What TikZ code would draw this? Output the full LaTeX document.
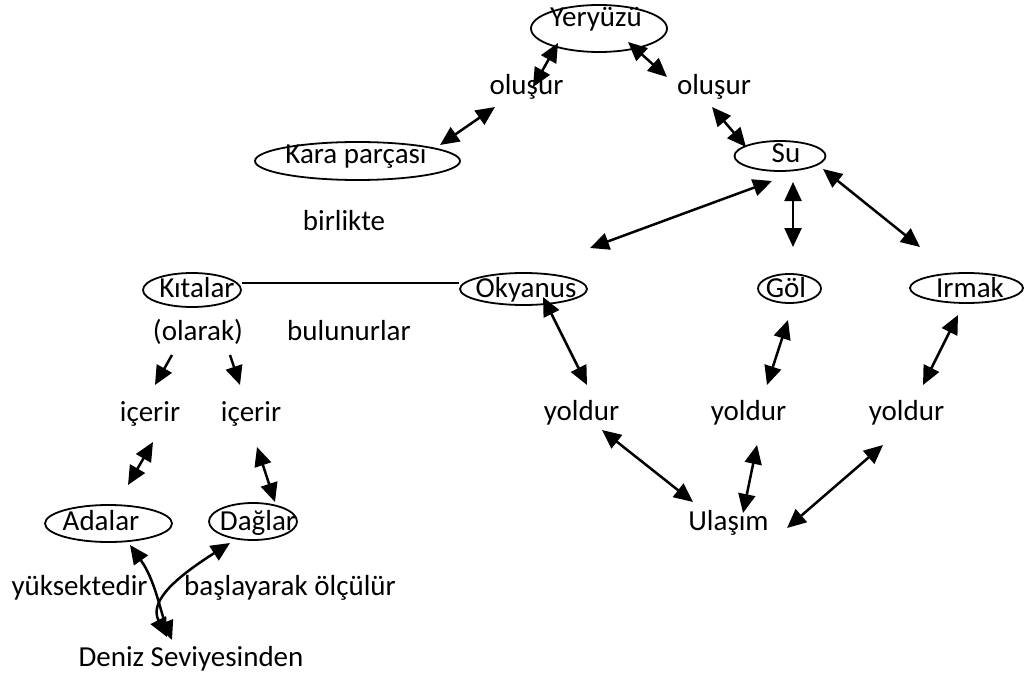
\documentclass[tikz,border=0pt]{standalone}
\usepackage{fontspec}
\setmainfont{Carlito}
\usetikzlibrary{arrows.meta,shapes.geometric}
\begin{document}
\begin{tikzpicture}[x=1pt,y=-1pt,
  oval/.style={ellipse,draw,line width=1.8pt,inner sep=0pt},
  lbl/.style={anchor=base,inner sep=0pt,font=\fontsize{29}{34}\selectfont},
  dbl/.style={line width=2.5pt,{Triangle[length=19pt,width=17pt]}-{Triangle[length=19pt,width=17pt]}},
  sgl/.style={line width=2.5pt,-{Triangle[length=19pt,width=17pt]}},
  plain/.style={line width=1.8pt}]
\useasboundingbox[fill=white] (0,0) rectangle (1035,679);

% ellipses
\node[oval,minimum width=136pt,minimum height=47pt] (Yer) at (599,28.5) {};
\node[oval,minimum width=205pt,minimum height=38pt] (Kara) at (357.5,161) {};
\node[oval,minimum width=91pt,minimum height=30pt] (Su) at (780,156) {};
\node[oval,minimum width=98pt,minimum height=34pt] (Kit) at (192,290) {};
\node[oval,minimum width=127pt,minimum height=32pt] (Oky) at (523.5,289) {};
\node[oval,minimum width=63pt,minimum height=29pt] (Gol) at (789.5,288.5) {};
\node[oval,minimum width=113pt,minimum height=30pt] (Irm) at (966.5,288) {};
\node[oval,minimum width=127pt,minimum height=37pt] (Ada) at (108.5,523.5) {};
\node[oval,minimum width=88pt,minimum height=37pt] (Dag) at (253,521.5) {};

% ellipse texts
\node[lbl] (tYer) at (596,27) {Yeryüzü};
\node[lbl] (tKara) at (356,164) {Kara parçası};
\node[lbl] (tSu) at (786,163) {Su};
\node[lbl] (tKit) at (197,297) {Kıtalar};
\node[lbl] (tOky) at (526,297) {Okyanus};
\node[lbl] (tGol) at (786,297) {Göl};
\node[lbl] (tIrm) at (970,297) {Irmak};
\node[lbl] (tAda) at (101,530) {Adalar};
\node[lbl] (tDag) at (258,530) {Dağlar};

% plain texts
\node[lbl] (olL) at (526.5,95) {oluşur};
\node[lbl] (olR) at (714,95) {oluşur};
\node[lbl] (bir) at (344,230) {birlikte};
\node[lbl] (ola) at (198,340) {(olarak)};
\node[lbl] (bul) at (349,340) {bulunurlar};
\node[lbl] (icL) at (150,421) {içerir};
\node[lbl] (icR) at (251,421) {içerir};
\node[lbl] (y1) at (581.5,420) {yoldur};
\node[lbl] (y2) at (748.5,420) {yoldur};
\node[lbl] (y3) at (906.5,420) {yoldur};
\node[lbl] (Ul) at (728.5,530) {Ulaşım};
\node[lbl] (yuk) at (79.5,595) {yüksektedir};
\node[lbl] (bas) at (290,595) {başlayarak ölçülür};
\node[lbl] (Den) at (191,666) {Deniz Seviyesinden};

% connectors
\draw[dbl] ([shift={(-41,14.5)}]Yer.center) -- ([shift={(6.5,-8)}]olL.base);
\draw[dbl] ([shift={(29,13.5)}]Yer.center) -- ([shift={(-47,-18)}]olR.base);
\draw[dbl] ([shift={(-31.5,12)}]olL.base) -- ([shift={(82.5,-16)}]Kara.center);
\draw[dbl] ([shift={(-2,12)}]olR.base) -- ([shift={(-34,-9)}]Su.center);
\draw[dbl] ([shift={(-8,25)}]Su.center) -- ([shift={(66.5,-41)}]Oky.center);
\draw[dbl] ([shift={(13,26)}]Su.center) -- ([shift={(3.5,-41.5)}]Gol.center);
\draw[dbl] ([shift={(43,13)}]Su.center) -- ([shift={(-46.5,-41)}]Irm.center);
\draw[plain] ([shift={(0,-7)}]Kit.east) -- ([shift={(0,-6)}]Oky.west);
\draw[sgl] ([shift={(-26,15)}]ola.base) -- ([shift={(5,-36)}]icL.base);
\draw[sgl] ([shift={(32,15)}]ola.base) -- ([shift={(-11,-36)}]icR.base);
\draw[dbl] ([shift={(3,21)}]icL.base) -- ([shift={(19.5,-38.5)}]Ada.center);
\draw[dbl] ([shift={(6,26)}]icR.base) -- ([shift={(22,-19.5)}]Dag.center);
\draw[dbl] ([shift={(19.5,8)}]Oky.center) -- ([shift={(5.5,-35)}]y1.base);
\draw[dbl] ([shift={(-1.5,31.5)}]Gol.center) -- ([shift={(18.5,-35)}]y2.base);
\draw[dbl] ([shift={(-8.5,27)}]Irm.center) -- ([shift={(16.5,-35)}]y3.base);
\draw[dbl] ([shift={(20.5,10)}]y1.base) -- ([shift={(-35.5,-28)}]Ul.base);
\draw[dbl] ([shift={(8.5,25)}]y2.base) -- ([shift={(14.5,-17)}]Ul.base);
\draw[dbl] ([shift={(-23.5,25)}]y3.base) -- ([shift={(58.5,-2)}]Ul.base);
\draw[dbl] ([shift={(21.5,21.5)}]Ada.center) .. controls (155,580) and (160,610) .. ([shift={(-19,-26)}]Den.base);
\draw[dbl] ([shift={(-23,21.5)}]Dag.center) .. controls (180,575) and (148,600) .. ([shift={(-24,-29)}]Den.base);
\end{tikzpicture}
\end{document}
